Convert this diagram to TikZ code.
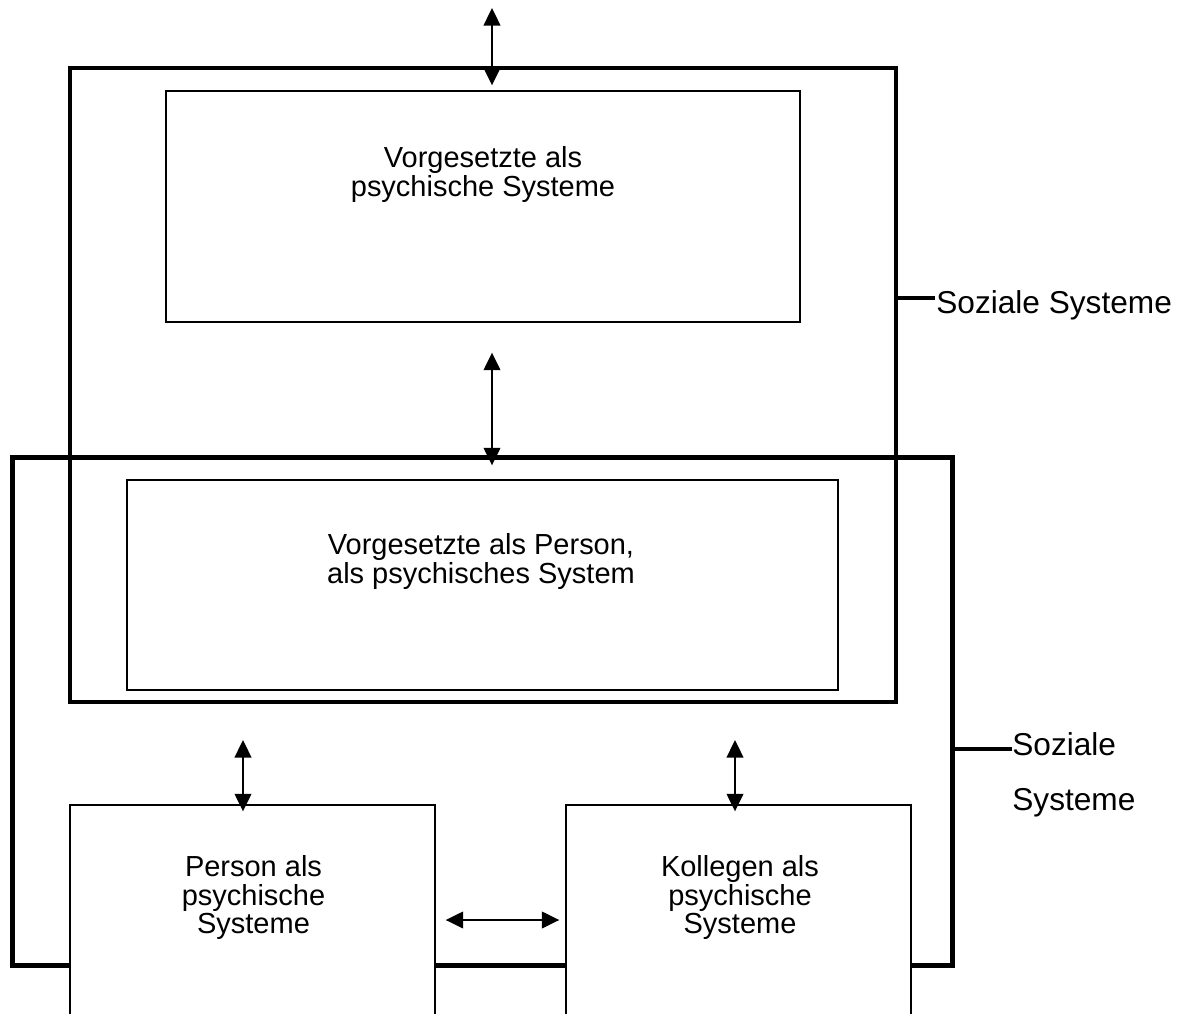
\documentclass[tikz,border=0pt]{standalone}
\usepackage{fontspec}
\setmainfont{Liberation Sans}
\usetikzlibrary{arrows.meta}

\begin{document}
\begin{tikzpicture}[x=0.02cm,y=-0.02cm,
		bigbox/.style={draw,line width=2pt,inner sep=0pt},
		thinbox/.style={draw,line width=0.8pt,inner sep=0pt},
		txt/.style={align=center,font=\fontsize{16.5}{16}\selectfont},
		lbl/.style={anchor=base west,font=\fontsize{18}{17}\selectfont,inner sep=0pt},
		dblarrow/.style={line width=1.1pt,
			{Triangle[length=10pt,width=9.5pt]}-{Triangle[length=10pt,width=9.5pt]}}]
			\useasboundingbox (0,0) rectangle (1181,1014);
			\clip (0,0) rectangle (1181,1014);
			% upper system
			\node[bigbox,minimum width=16.52cm,minimum height=12.68cm] (outerA) at (483,385) {};
			\node[thinbox,minimum width=12.68cm,minimum height=4.62cm] (inner1) at (483,206.5) {};
			\node[txt,font=\fontsize{16.5}{17}\selectfont] (t1) at (483,174.5) {Vorgesetzte als\\psychische Systeme};
			% lower system
			\node[bigbox,line width=2.8pt,minimum width=18.82cm,minimum height=10.18cm] (outerB) at (482.5,711.5) {};
			\node[thinbox,minimum width=14.22cm,minimum height=4.2cm] (inner2) at (482.5,585) {};
			\node[txt] (t2) at (481,561.5) {Vorgesetzte als Person,\\als psychisches System};
			\node[thinbox,fill=white,minimum width=7.3cm,minimum height=4.6cm] (person) at (252.5,920) {};
			\node[thinbox,fill=white,minimum width=6.9cm,minimum height=4.6cm] (kollegen) at (738.5,920) {};
			\node[txt] (t3) at (253.5,897.5) {Person als\\psychische\\Systeme};
			\node[txt] (t4) at (740,897.5) {Kollegen als\\psychische\\Systeme};
			% labels
			\coordinate (tick1) at (935,298);
			\coordinate (tick2) at (1012,749);
			\node[lbl] (lab1) at (936,313) {Soziale Systeme};
			\node[lbl] (lab2) at (1012,755) {Soziale};
			\node[lbl] (lab3) at (1012,810) {Systeme};
			\draw[line width=2pt] (outerA.east |- tick1) -- (tick1);
			\draw[line width=2pt] (outerB.east |- tick2) -- (tick2);
			% arrows
			\coordinate (topend) at (492,8);
			\coordinate (lup) at (243,740);
			\coordinate (rup) at (735,740);
			\draw[dblarrow,shorten >=0.1cm] (topend) -- (topend |- inner1.north);
			\draw[dblarrow,shorten <=0.6cm,shorten >=0.28cm] (inner1.south -| topend) -- (inner2.north -| topend);
			\draw[dblarrow,shorten >=-0.14cm] (lup) -- (lup |- person.north);
			\draw[dblarrow,shorten >=-0.14cm] (rup) -- (rup |- kollegen.north);
			\draw[dblarrow,shorten <=0.2cm,shorten >=0.12cm] (person.east) -- (kollegen.west);
	\end{tikzpicture}
\end{document}
